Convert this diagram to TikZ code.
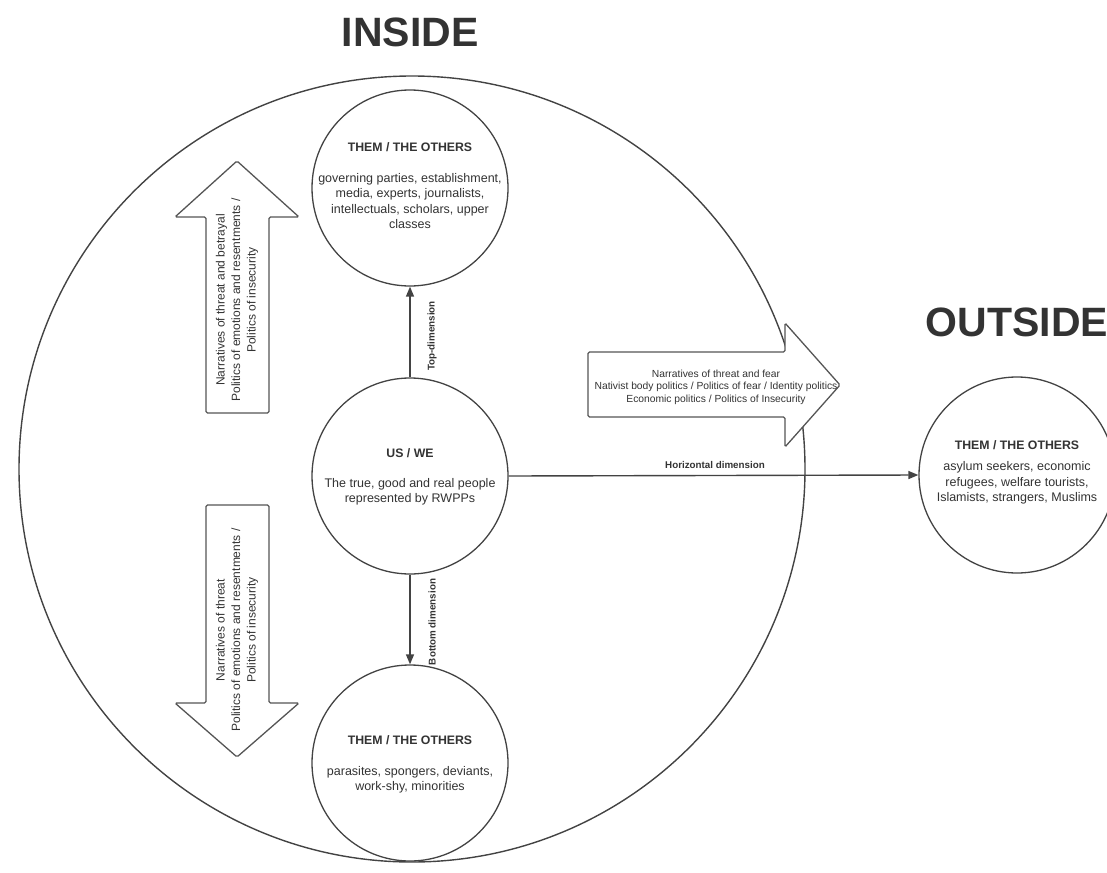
\documentclass[tikz,border=0pt]{standalone}
\usepackage{fontspec}
\setmainfont{Liberation Sans}
\usetikzlibrary{arrows.meta}
\definecolor{ink}{HTML}{333333}
\definecolor{linegray}{HTML}{434343}
\definecolor{boxgray}{HTML}{555555}

\begin{document}
\begin{tikzpicture}[x=1pt,y=-1pt,
  ring/.style={draw=linegray, line width=1.3pt, circle, fill=white, minimum size=196pt, inner sep=0pt},
  bigring/.style={draw=linegray, line width=1.4pt, circle, minimum size=786pt, inner sep=0pt},
  ctitle/.style={text=ink, font=\bfseries\fontsize{12.3}{14}\selectfont},
  cbody/.style={text=ink, align=center, font=\fontsize{12.5}{15.3}\selectfont, inner sep=0pt},
  heading/.style={text=ink, font=\bfseries\fontsize{41}{44}\selectfont},
  dimlabel/.style={text=ink, font=\bfseries\fontsize{9.8}{11}\selectfont, inner sep=0pt},
  connector/.style={draw=linegray, line width=1.4pt, -{Triangle[length=10pt,width=8pt]}},
  blockarrow/.style={draw=boxgray, line width=1.3pt, fill=white, rounded corners=1.5pt, line join=miter},
  arrowtext/.style={text=ink, align=center, font=\fontsize{12}{15.4}\selectfont, inner sep=0pt},
  sidetext/.style={text=ink, align=center, font=\fontsize{10.3}{12.6}\selectfont, inner sep=0pt}]

\useasboundingbox (0,0) rectangle (1107,872);

% headings
\node[heading] (inside-title) at (410,32) {INSIDE};
\node[heading] (outside-title) at (1017,322) {OUTSIDE};

% the inner world
\node[bigring] (inside) at (412,469) {};

% circles for the groups
\node[ring] (them-top) at (410,188) {};
\node[ring] (us) at (410,476) {};
\node[ring] (them-bottom) at (410,763) {};
\node[ring] (them-out) at (1017,475) {};

% texts of the circles
\node[ctitle] (them-top-title) at (410,147) {THEM / THE OTHERS};
\node[cbody] (them-top-body) at (410,201) {governing parties, establishment,\\ media, experts, journalists,\\ intellectuals, scholars, upper\\ classes};

\node[ctitle] (us-title) at (410,453) {US / WE};
\node[cbody] (us-body) at (410,492) {The true, good and real people\\ represented by RWPPs};

\node[ctitle] (them-bottom-title) at (410,740) {THEM / THE OTHERS};
\node[cbody] (them-bottom-body) at (410,780) {parasites, spongers, deviants,\\ work-shy, minorities};

\node[ctitle] (them-out-title) at (1017,445) {THEM / THE OTHERS};
\node[cbody] (them-out-body) at (1017,483) {asylum seekers, economic\\ refugees, welfare tourists,\\ Islamists, strangers, Muslims};

% dimensions
\draw[connector] (us.north) -- (them-top.south);
\draw[connector] (us.south) -- (them-bottom.north);
\draw[connector] (us.east) -- (them-out.west);
\node[dimlabel, rotate=90] (top-label) at (432,336) {Top-dimension};
\node[dimlabel, rotate=90] (bottom-label) at (432,622) {Bottom dimension};
\node[dimlabel] (horizontal-label) at (715,465) {Horizontal dimension};

% block arrows
\draw[blockarrow] (206,413) -- (206,217) -- (175,217) -- (237,161) -- (299,217) -- (269,217) -- (269,413) -- cycle;
\node[arrowtext, rotate=90] (up-text) at (237,300) {Narratives of threat and betrayal\\ Politics of emotions and resentments /\\ Politics of insecurity};

\draw[blockarrow] (206,505) -- (269,505) -- (269,703) -- (299,703) -- (237,757) -- (175,703) -- (206,703) -- cycle;
\node[arrowtext, rotate=90] (down-text) at (237,630) {Narratives of threat\\ Politics of emotions and resentments /\\ Politics of insecurity};

\draw[blockarrow] (588,352) -- (785,352) -- (785,323) -- (840,385) -- (785,447) -- (785,417) -- (588,417) -- cycle;
\node[sidetext] (side-text) at (716,387) {Narratives of threat and fear\\ Nativist body politics / Politics of fear / Identity politics\\ Economic politics / Politics of Insecurity};

\end{tikzpicture}
\end{document}
